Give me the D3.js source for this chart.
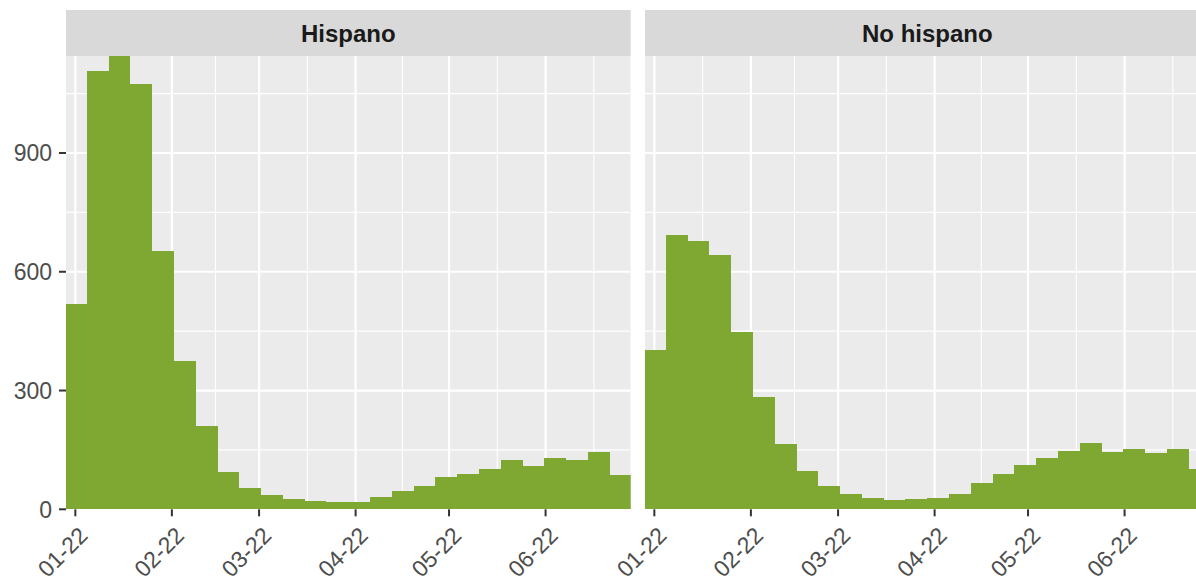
<!DOCTYPE html>
<html>
<head>
<meta charset="utf-8">
<script src="https://cdn.jsdelivr.net/npm/d3@7"></script>
<style>
body { margin: 0; background: #fff; }
text { font-family: "Liberation Sans", Arial, sans-serif; }
</style>
</head>
<body>
<div id="chart"></div>
<script>
// facet names
var groups = ["Hispano", "No hispano"];

// weekly counts
var hispano = [518, 1108, 1145, 1074, 652, 375, 210, 94, 54, 35, 25, 20, 18, 18,
               31, 45, 59, 82, 88, 101, 125, 109, 130, 125, 144, 87];
var noHispano = [402, 694, 678, 642, 447, 283, 164, 96, 59, 39, 28, 24, 25, 29,
                 39, 66, 89, 112, 129, 146, 168, 145, 152, 142, 152, 103];

// first weekly bin starts here, each bin is 7 days
var firstWeek = "2021-12-28T15:36:00Z";

// x axis
var xStart = "2021-12-29T00:00:00Z";
var xEnd = "2022-06-28T08:00:00Z";
var monthTicks = ["2022-01-01", "2022-02-01", "2022-03-01", "2022-04-01", "2022-05-01", "2022-06-01"];

// y axis
var yTicks = [0, 300, 600, 900];
var yMinor = [150, 450, 750, 1050];
var yMax = 1145;

var W = 1196, H = 577;
var margin = { top: 10, left: 66 };
var stripH = 46;
var panelW = 564.7, panelH = 453.3, panelGap = 14.3;
var fill = "#7ea831";

var svg = d3.select("#chart").append("svg")
    .attr("width", W)
    .attr("height", H);

var parse = function(s) { return new Date(s.length == 10 ? s + "T00:00:00Z" : s); };

var x = d3.scaleUtc()
    .domain([parse(xStart), parse(xEnd)])
    .range([0, panelW]);

var y = d3.scaleLinear()
    .domain([0, yMax])
    .range([panelH, 0]);

var ticks = monthTicks.map(parse);
// minor breaks halfway between the majors, plus one each side
var minor = [];
for (var i = 0; i < ticks.length - 1; i++) {
    minor.push(new Date((+ticks[i] + +ticks[i + 1]) / 2));
}
minor.unshift(new Date(+ticks[0] - (ticks[1] - ticks[0]) / 2));
minor.push(new Date(+ticks[ticks.length - 1] + (ticks[ticks.length - 1] - ticks[ticks.length - 2]) / 2));

var series = [hispano, noHispano];
var start = parse(firstWeek);

groups.forEach(function(name, k) {
    var px = margin.left + k * (panelW + panelGap);
    var py = margin.top + stripH;

    var bins = series[k].map(function(v, i) {
        return { x0: d3.utcDay.offset(start, 7 * i), x1: d3.utcDay.offset(start, 7 * (i + 1)), value: v };
    });

    // strip
    svg.append("rect")
        .attr("x", px).attr("y", margin.top)
        .attr("width", panelW).attr("height", stripH)
        .style("fill", "#d9d9d9");
    svg.append("text")
        .attr("x", px + panelW / 2)
        .attr("y", margin.top + stripH / 2 + 9)
        .attr("text-anchor", "middle")
        .style("font-size", "24px")
        .style("font-weight", "bold")
        .style("fill", "#1a1a1a")
        .text(name);

    svg.append("clipPath").attr("id", "clip" + k)
        .append("rect").attr("width", panelW).attr("height", panelH);

    var g = svg.append("g")
        .attr("transform", "translate(" + px + "," + py + ")")
        .attr("clip-path", "url(#clip" + k + ")");

    g.append("rect")
        .attr("width", panelW).attr("height", panelH)
        .style("fill", "#ebebeb");

    // grid
    g.selectAll(".ymin").data(yMinor).enter().append("line")
        .attr("x1", 0).attr("x2", panelW)
        .attr("y1", function(d) { return y(d); }).attr("y2", function(d) { return y(d); })
        .style("stroke", "#fff").style("stroke-width", 1.1);
    g.selectAll(".xmin").data(minor).enter().append("line")
        .attr("y1", 0).attr("y2", panelH)
        .attr("x1", function(d) { return x(d); }).attr("x2", function(d) { return x(d); })
        .style("stroke", "#fff").style("stroke-width", 1.1);
    g.selectAll(".ymaj").data(yTicks).enter().append("line")
        .attr("x1", 0).attr("x2", panelW)
        .attr("y1", function(d) { return y(d); }).attr("y2", function(d) { return y(d); })
        .style("stroke", "#fff").style("stroke-width", 2.2);
    g.selectAll(".xmaj").data(ticks).enter().append("line")
        .attr("y1", 0).attr("y2", panelH)
        .attr("x1", function(d) { return x(d); }).attr("x2", function(d) { return x(d); })
        .style("stroke", "#fff").style("stroke-width", 2.2);

    // bars
    g.selectAll(".bar").data(bins).enter().append("rect")
        .attr("class", "bar")
        .attr("x", function(d) { return x(d.x0); })
        .attr("width", function(d) { return x(d.x1) - x(d.x0); })
        .attr("y", function(d) { return y(d.value); })
        .attr("height", function(d) { return y(0) - y(d.value); })
        .style("fill", fill)
        .style("shape-rendering", "crispEdges");

    // x axis ticks and labels
    var ax = svg.append("g").attr("transform", "translate(" + px + "," + (py + panelH) + ")");
    ax.selectAll("line").data(ticks).enter().append("line")
        .attr("x1", function(d) { return x(d); }).attr("x2", function(d) { return x(d); })
        .attr("y1", 0).attr("y2", 7)
        .style("stroke", "#333").style("stroke-width", 2);
    ax.selectAll("text").data(ticks).enter().append("text")
        .attr("transform", function(d) { return "translate(" + (x(d) + 2) + ",16)rotate(-45)"; })
        .attr("text-anchor", "end")
        .attr("dy", "0.72em")
        .style("font-size", "23px")
        .style("fill", "#4d4d4d")
        .text(d3.utcFormat("%m-%y"));

    // y axis only on the first panel
    if (k == 0) {
        var ay = svg.append("g").attr("transform", "translate(" + px + "," + py + ")");
        ay.selectAll("line").data(yTicks).enter().append("line")
            .attr("x1", -7).attr("x2", 0)
            .attr("y1", function(d) { return y(d); }).attr("y2", function(d) { return y(d); })
            .style("stroke", "#333").style("stroke-width", 2);
        ay.selectAll("text").data(yTicks).enter().append("text")
            .attr("x", -14)
            .attr("y", function(d) { return y(d); })
            .attr("dy", "0.36em")
            .attr("text-anchor", "end")
            .style("font-size", "23px")
            .style("fill", "#4d4d4d")
            .text(String);
    }
});
</script>
</body>
</html>
